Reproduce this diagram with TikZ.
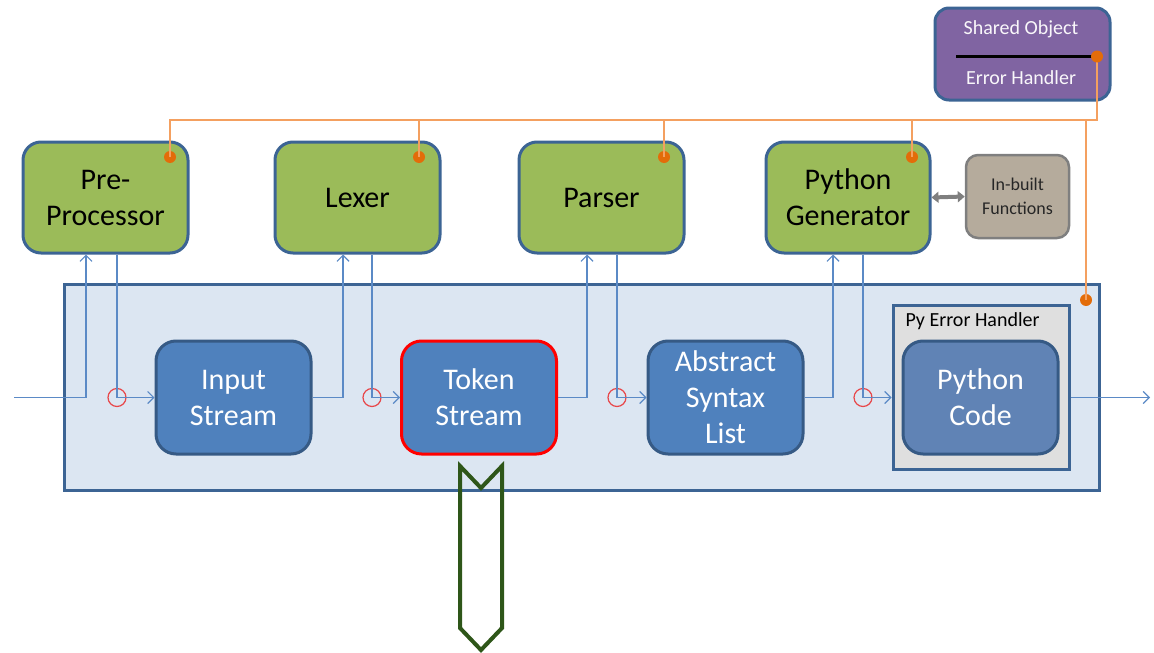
\documentclass[tikz,border=0pt]{standalone}
\usepackage{fontspec}
\setmainfont{Carlito}
\usetikzlibrary{arrows.meta}
\definecolor{gfill}{HTML}{9BBB59}
\definecolor{bborder}{HTML}{3C6494}
\definecolor{mfill}{HTML}{DCE6F2}
\definecolor{bfill}{HTML}{4F81BD}
\definecolor{pfill}{HTML}{6083B5}
\definecolor{hfill}{HTML}{DFDFDF}
\definecolor{purp}{HTML}{8064A2}
\definecolor{tan}{HTML}{B5AB9C}
\definecolor{gbord}{HTML}{7F7F7F}
\definecolor{flowc}{HTML}{5B8AC6}
\definecolor{ringc}{HTML}{E8474A}
\definecolor{orl}{HTML}{F4A060}
\definecolor{ord}{HTML}{E36C09}
\definecolor{dgreen}{HTML}{2E5619}
\tikzset{
  big/.style={font=\fontsize{30}{36}\selectfont, align=center},
  stage/.style={draw=bborder, line width=3pt, fill=gfill, rounded corners=18pt, minimum width=165pt, minimum height=111pt, big, text=black},
  data/.style={draw=bborder!90!black, line width=3pt, fill=bfill, rounded corners=20pt, minimum width=155pt, minimum height=113pt, big, text=white},
  flow/.style={draw=flowc, line width=1.2pt},
  flowarr/.style={flow, -{Straight Barb[length=6pt,width=12pt]}},
  ring/.style={circle, draw=ringc, line width=1.2pt, minimum size=18pt, inner sep=0pt},
  odot/.style={circle, fill=ord, minimum size=12pt, inner sep=0pt},
  oline/.style={draw=orl, line width=1.3pt},
}
\begin{document}
\begin{tikzpicture}[x=1pt,y=-1pt]
\useasboundingbox (0,0) rectangle (1154,653);
% main container
\node[draw=bborder, line width=3pt, fill=mfill, minimum width=1035pt, minimum height=206pt] (main) at (581.5,387) {};
% shared object
\node[draw=bborder, line width=3pt, fill=purp, rounded corners=14pt, minimum width=175pt, minimum height=92pt] (so) at (1022.5,54) {};
\node[text=white!95!purp, font=\fontsize{20}{22}\selectfont] (sot) at (1021,29) {Shared Object};
\node[text=white!95!purp, font=\fontsize{20}{22}\selectfont] (sob) at (1021,78) {Error Handler};
\coordinate (sol) at (956,56.5);
\coordinate (soc) at (1097,56.5);
\draw[line width=3pt, black] (sol) -- (soc);
% orange bus
\coordinate (busr) at (1097,120);
\coordinate (busl) at (170,120);
\draw[oline] (soc) -- (busr) -- (busl) -- (170,157);
\node[odot] (sod) at (soc) {};
% stages
\node[stage] (pre) at (105.5,197.5) {Pre-\\Processor};
\node[stage] (lex) at (357.5,197.5) {Lexer};
\node[stage] (par) at (601.5,197.5) {Parser};
\node[stage, minimum width=164pt] (gen) at (848,197.5) {Python\\Generator};
\node[draw=gbord, line width=2.5pt, fill=tan, rounded corners=12pt, minimum width=103pt, minimum height=83pt, align=center, font=\fontsize{18}{24}\selectfont, text=black!85] (fun) at (1017.5,196.5) {In-built\\Functions};
\draw[gbord, line width=4pt, {Triangle[length=7pt,width=11pt]}-{Triangle[length=7pt,width=11pt]}] (gen.east) -- (fun.west);
% orange dots on stages
\node[odot] (d1) at (170,157) {};
\node[odot] (d2) at (419,157) {};
\node[odot] (d3) at (664,157) {};
\node[odot] (d4) at (912,157) {};
\node[odot] (d5) at (1086,300) {};
\draw[oline] (d1.center |- busr) -- (d1.center);
\draw[oline] (d2.center |- busr) -- (d2.center);
\draw[oline] (d3.center |- busr) -- (d3.center);
\draw[oline] (d4.center |- busr) -- (d4.center);
\draw[oline] (d5.center |- busr) -- (d5.center);
% data boxes
\node[data] (inp) at (233.5,397.5) {Input\\Stream};
\node[data, draw=red] (tok) at (479,397.5) {Token\\Stream};
\node[data] (asl) at (725.5,397.5) {Abstract\\Syntax\\List};
\node[draw=bborder, line width=3pt, fill=hfill, minimum width=176pt, minimum height=164pt] (peh) at (981,387) {};
\node[anchor=west, font=\fontsize{20}{22}\selectfont, text=black] (pehl) at (902,321) {Py Error Handler};
\node[data, fill=pfill] (pyc) at (980.5,397.5) {Python\\Code};
% rings
\node[ring] (c1) at (117,397.5) {};
\node[ring] (c2) at (372,397.5) {};
\node[ring] (c3) at (617,397.5) {};
\node[ring] (c4) at (863,397.5) {};
% flow lines
\coordinate (in) at (14,397.5);
\coordinate (out) at (1150,397.5);
\draw[flowarr] (in) -| ([xshift=-19.5pt]pre.south);
\draw[flowarr] ([xshift=11.5pt]pre.south) -- (c1.center) -- (inp.west);
\draw[flowarr] (inp.east) -| ([xshift=-14.5pt]lex.south);
\draw[flowarr] ([xshift=14.5pt]lex.south) -- (c2.center) -- (tok.west);
\draw[flowarr] (tok.east) -| ([xshift=-14.5pt]par.south);
\draw[flowarr] ([xshift=15.5pt]par.south) -- (c3.center) -- (asl.west);
\draw[flowarr] (asl.east) -| ([xshift=-15pt]gen.south);
\draw[flowarr] ([xshift=15pt]gen.south) -- (c4.center) -- (peh.west |- c4);
\draw[flowarr] (peh.east |- out) -- (out);
% green down arrow
\draw[dgreen, line width=4pt, line join=miter] (460,466) -- (481,488) -- (502,466) -- (502,628) -- (481,650) -- (460,628) -- cycle;
\end{tikzpicture}
\end{document}
